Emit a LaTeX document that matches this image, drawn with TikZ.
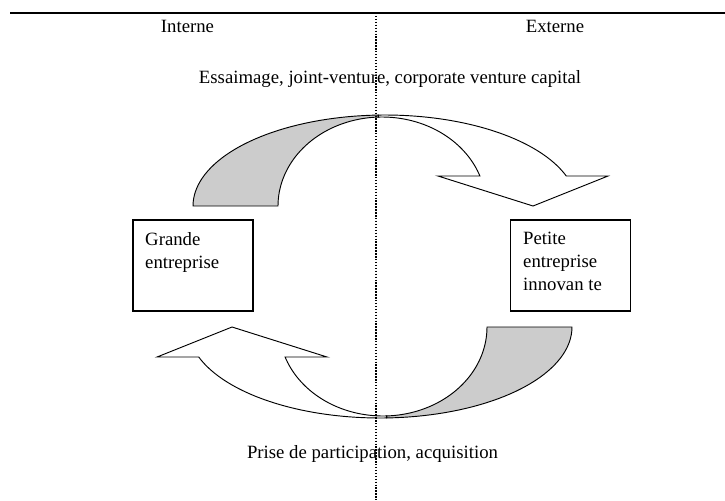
\documentclass[tikz,border=0pt]{standalone}
\usepackage{fontspec}
\setmainfont{Liberation Serif}
\usetikzlibrary{calc}
\definecolor{bendGray}{RGB}{204,204,204}

\begin{document}
\begin{tikzpicture}[x=0.03cm, y=-0.03cm,
	labelText/.style={font=\fontsize{16}{19.6}\selectfont, inner sep=0pt},
	firmBox/.style={draw, line width=0.9pt, minimum width=3.6cm, minimum height=2.73cm, inner sep=0pt},
	bendPart/.style={draw, line width=0.8pt, line join=miter}]
	\useasboundingbox (0,0) rectangle (725,500);

	% header
	\draw[line width=1.5pt] (10,13) -- (725,13);
	\node[labelText, anchor=base] (interne) at (187.5,32) {Interne};
	\node[labelText, anchor=base] (externe) at (555,32) {Externe};

	% the two firms
	\node[firmBox] (grande) at (193,265.5) {};
	\node[firmBox] (petite) at (570.5,265.5) {};
	\node[labelText, anchor=north west, align=left] (grandeText) at (145,232) {Grande\\entreprise};
	\node[labelText, anchor=north west, align=left] (petiteText) at (523,232) {Petite\\entreprise\\innovan te};

	\newcommand\drawBend{
		\filldraw[bendPart, fill=bendGray] plot[domain=180:268, samples=40] ({385+192*cos(\x)}, {206+91*sin(\x)})
			-- plot[domain=268:180, samples=40] ({382+104*cos(\x)}, {206+89*sin(\x)}) -- cycle;
		\filldraw[bendPart, fill=white] plot[domain=268:340.75, samples=40] ({385+192*cos(\x)}, {206+91*sin(\x)})
			-- (608,176) -- (533,206) -- (438,176)
			-- plot[domain=340.3:268, samples=40] ({382+104*cos(\x)}, {206+89*sin(\x)}) -- cycle;
	}

	\drawBend
	\begin{scope}[rotate around={180:(382.5,266.5)}]
		\drawBend
	\end{scope}

	\node[labelText, anchor=base] (topLinks) at (390,83) {Essaimage, joint-venture, corporate venture capital};
	\node[labelText, anchor=base] (bottomLinks) at (372.5,458) {Prise de participation, acquisition};

	% divider
	\coordinate (divTop) at (376,13);
	\coordinate (divBottom) at (376,500);
	\draw[line width=1.2pt, dash pattern=on 1.2pt off 1.3pt] (divTop) -- (divBottom);
\end{tikzpicture}
\end{document}
